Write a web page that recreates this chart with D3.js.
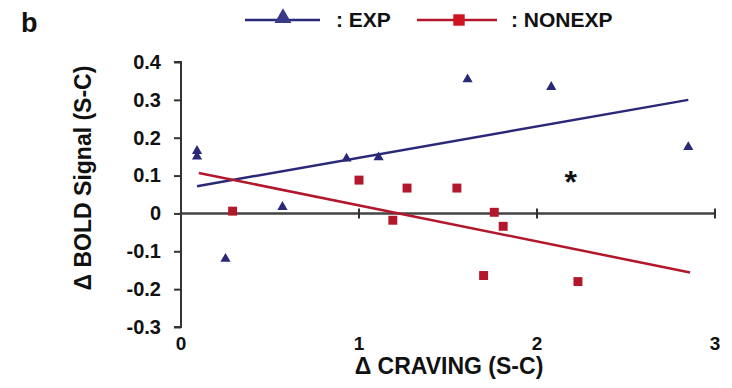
<!DOCTYPE html>
<html>
<head>
<meta charset="utf-8">
<script src="https://cdn.jsdelivr.net/npm/d3@7"></script>
<style>
  body { margin: 0; background: #fff; }
  text { font-family: "Liberation Sans", Arial, sans-serif; font-weight: bold; fill: #111; }
</style>
</head>
<body>
<div id="chart"></div>
<script>
// data
const expX = [0.09, 0.09, 0.25, 0.57, 0.93, 1.11, 1.61, 2.08, 2.85];
const expY = [0.165, 0.15, -0.12, 0.017, 0.145, 0.148, 0.354, 0.334, 0.175];
const nonX = [0.29, 1.00, 1.19, 1.27, 1.55, 1.70, 1.76, 1.81, 2.23];
const nonY = [0.006, 0.088, -0.018, 0.067, 0.067, -0.164, 0.003, -0.034, -0.18];
// fitted regression lines (endpoints)
const expFitX = [0.09, 2.85];
const expFitY = [0.072, 0.30];
const nonFitX = [0.10, 2.86];
const nonFitY = [0.107, -0.156];
const xTicks = [0, 1, 2, 3];
const yTicks = [0.4, 0.3, 0.2, 0.1, 0, -0.1, -0.2, -0.3];

const width = 732, height = 388;
const blue = "#2a2978", red = "#b3172b";

const svg = d3.select("#chart").append("svg")
  .attr("width", width)
  .attr("height", height);

const x = d3.scaleLinear().domain([0, 3]).range([181, 715]);
const y = d3.scaleLinear().domain([-0.3, 0.4]).range([327, 62]);

// y axis
const yAxis = svg.append("g")
  .attr("transform", "translate(" + x(0) + ",0)")
  .call(d3.axisLeft(y).tickValues(yTicks).tickSize(7).tickPadding(13)
    .tickFormat(d => d === 0 ? "0" : d3.format(".1f")(d).replace("\u2212", "-")));
yAxis.select(".domain").attr("stroke", "#333").attr("stroke-width", 2).attr("d", "M-7," + y(0.4) + "H0V" + y(-0.3) + "H-7");
yAxis.selectAll(".tick line").attr("stroke", "#333").attr("stroke-width", 2);
yAxis.selectAll(".tick text").style("font-size", "20px").attr("fill", "#111");

// zero line with ticks
svg.append("line")
  .attr("x1", x(0)).attr("x2", x(3))
  .attr("y1", y(0)).attr("y2", y(0))
  .attr("stroke", "#444").attr("stroke-width", 2.5);
svg.selectAll(".zt")
  .data(xTicks.slice(1))
  .enter().append("line")
  .attr("x1", d => x(d)).attr("x2", d => x(d))
  .attr("y1", y(0) - 5).attr("y2", y(0) + 5)
  .attr("stroke", "#333").attr("stroke-width", 2);

// x tick labels at bottom
svg.selectAll(".xl")
  .data(xTicks)
  .enter().append("text")
  .attr("x", d => x(d))
  .attr("y", 350)
  .attr("text-anchor", "middle")
  .style("font-size", "19px")
  .text(d => d);

// regression lines
const line = d3.line().x(d => x(d[0])).y(d => y(d[1]));
svg.append("path")
  .datum(d3.zip(expFitX, expFitY))
  .attr("fill", "none").attr("stroke", blue).attr("stroke-width", 2.5)
  .attr("d", line);
svg.append("path")
  .datum(d3.zip(nonFitX, nonFitY))
  .attr("fill", "none").attr("stroke", red).attr("stroke-width", 2.5)
  .attr("d", line);

// points
const tri = d3.symbol().type(d3.symbolTriangle).size(45);
const sq = d3.symbol().type(d3.symbolSquare).size(80);
svg.selectAll(".exp")
  .data(d3.zip(expX, expY))
  .enter().append("path")
  .attr("transform", d => "translate(" + x(d[0]) + "," + y(d[1]) + ")")
  .attr("d", tri)
  .attr("fill", blue);
svg.selectAll(".non")
  .data(d3.zip(nonX, nonY))
  .enter().append("path")
  .attr("transform", d => "translate(" + x(d[0]) + "," + y(d[1]) + ")")
  .attr("d", sq)
  .attr("fill", red);

// significance mark
svg.append("text")
  .attr("x", x(2.19)).attr("y", y(0.094) + 15)
  .attr("text-anchor", "middle")
  .style("font-size", "32px")
  .text("*");

// axis titles
svg.append("text")
  .attr("x", 449).attr("y", 374)
  .attr("text-anchor", "middle")
  .style("font-size", "23px")
  .text("Δ CRAVING (S-C)");
svg.append("text")
  .attr("transform", "translate(91,178)rotate(-90)")
  .attr("text-anchor", "middle")
  .style("font-size", "23px")
  .text("Δ BOLD Signal (S-C)");

// panel letter
svg.append("text")
  .attr("x", 21).attr("y", 32)
  .style("font-size", "27px")
  .text("b");

// legend
const lg = svg.append("g");
lg.append("line").attr("x1", 245).attr("x2", 320).attr("y1", 20).attr("y2", 20)
  .attr("stroke", blue).attr("stroke-width", 2.5);
lg.append("path").attr("transform", "translate(283,18)")
  .attr("d", d3.symbol().type(d3.symbolTriangle).size(125)).attr("fill", "#3a3a8c");
lg.append("text").attr("x", 336).attr("y", 27).style("font-size", "21px").text(": EXP");
lg.append("line").attr("x1", 417).attr("x2", 497).attr("y1", 20).attr("y2", 20)
  .attr("stroke", red).attr("stroke-width", 2.5);
lg.append("path").attr("transform", "translate(459,20)")
  .attr("d", d3.symbol().type(d3.symbolSquare).size(130)).attr("fill", "#d0141f");
lg.append("text").attr("x", 511).attr("y", 27).style("font-size", "21px").text(": NONEXP");
</script>
</body>
</html>
